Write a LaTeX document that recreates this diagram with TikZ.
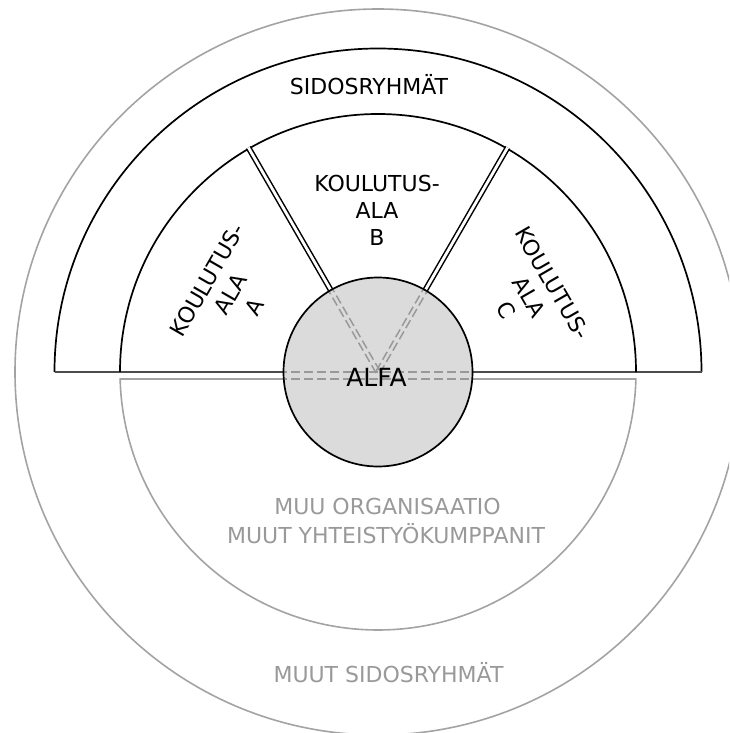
\documentclass[tikz,border=0pt]{standalone}
\usepackage{fontspec}
\setmainfont{DejaVu Sans}
\usetikzlibrary{calc}
\definecolor{lightline}{gray}{0.64}
\definecolor{hiddenline}{gray}{0.6}
\definecolor{softtext}{gray}{0.6}
\definecolor{hubfill}{gray}{0.86}
\definecolor{baseink}{gray}{0.3}
\begin{document}
\begin{tikzpicture}[x=1pt,y=1pt,
  rim/.style={line width=1.7pt, draw=black},
  faint/.style={line width=1.6pt, draw=lightline},
  spoke/.style={line width=1.5pt, draw=black, double=white, double distance=2.8pt},
  hidden/.style={line width=1.5pt, draw=hiddenline, dash pattern=on 9pt off 4pt},
  label/.style={font=\fontsize{22}{27}\selectfont, inner sep=0pt},
  sector/.style={label, align=center}]
\useasboundingbox (0,0) rectangle (729,-733);
\clip (0,0) rectangle (729,-733);
\coordinate (c) at (378,-372);

% outermost ring of other stakeholders
\draw[faint] (c) circle (363);

% lower half: rest of the organisation
\draw[faint] (c) ++(181.55:258) arc[start angle=181.55, end angle=358.45, radius=258] -- cycle;

% upper band: stakeholders
\draw[rim] (c) ++(180:323.5) arc[start angle=180, end angle=0, radius=323.5];
\draw[line width=1.7pt, draw=baseink] (c) ++(-323.5,0) -- ++(647,0);

% fields of education
\draw[rim] (c) ++(180:258) arc[start angle=180, end angle=0, radius=258];
\draw[spoke] (c) -- ++(120:259.2);
\draw[spoke] (c) -- ++(60:259.2);

% hub with hidden edges
\fill[hubfill] (c) circle (94.5);
\begin{scope}
  \clip (c) circle (93.7);
  \draw[hidden] ($(c)+(-100,0)$) -- ++(200,0);
  \draw[hidden] ($(c)+(-100,-7)$) -- ++(200,0);
  \begin{scope}[shift={(c)}, rotate=120]
    \draw[hidden] (0,2.15) -- (100,2.15);
    \draw[hidden] (0,-2.15) -- (100,-2.15);
  \end{scope}
  \begin{scope}[shift={(c)}, rotate=60]
    \draw[hidden] (0,2.15) -- (100,2.15);
    \draw[hidden] (0,-2.15) -- (100,-2.15);
  \end{scope}
\end{scope}
\draw[rim] (c) circle (94.5);

% labels
\node[label, anchor=base] (sid) at (369,-95) {SIDOSRYHMÄT};
\node[sector] (kb) at (377,-210) {KOULUTUS-\\ALA\\B};
\node[sector, rotate=60] (ka) at ($(c)+(152:167)$) {KOULUTUS-\\ALA\\A};
\node[sector, rotate=-60] (kc) at ($(c)+(26.5:169)$) {KOULUTUS-\\ALA\\C};
\node[font=\fontsize{25}{30}\selectfont, inner sep=0pt, anchor=base] (alfa) at (376.5,-386) {ALFA};
\node[label, softtext, anchor=base] (org) at (387.5,-514) {MUU ORGANISAATIO};
\node[label, softtext, anchor=base] (kump) at (386,-543) {MUUT YHTEISTYÖKUMPPANIT};
\node[label, softtext, anchor=base] (muut) at (388.5,-682) {MUUT SIDOSRYHMÄT};
\end{tikzpicture}
\end{document}
